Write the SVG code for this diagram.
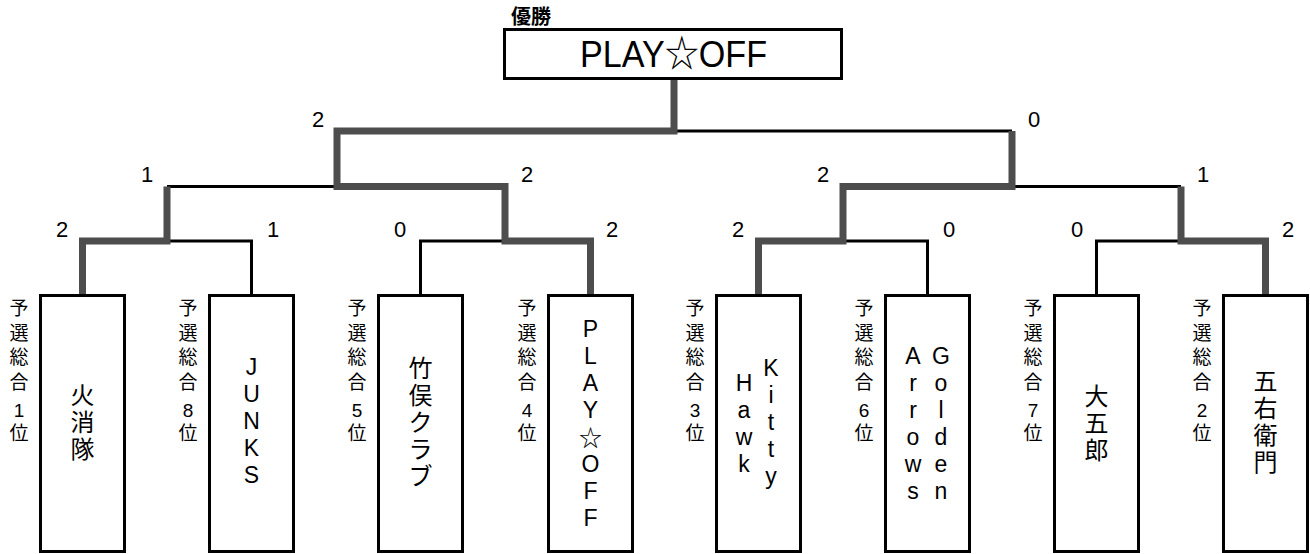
<svg xmlns="http://www.w3.org/2000/svg" width="1310" height="554" viewBox="0 0 1310 554">
<style>
text{font-family:"Liberation Sans","Noto Sans CJK JP",sans-serif;fill:#000}
.box{fill:#fff;stroke:#000;stroke-width:3}
.thin{fill:none;stroke:#000;stroke-width:3;stroke-linejoin:miter}
.thick{fill:none;stroke:#4d4d4d;stroke-width:7;stroke-linejoin:miter}
.score{font-size:22px;text-anchor:middle}
.side{font-size:19px;text-anchor:middle}
.name{font-size:24px;text-anchor:middle}
.lat{font-size:23px;text-anchor:middle}
</style>
<rect width="1310" height="554" fill="#fff"/>
<g id="connectors">
<path class="thin" d="M674,131 H1012"/>
<path class="thin" d="M167,186.5 H337"/>
<path class="thin" d="M1012,186.5 H1181"/>
<path class="thin" d="M251.5,295 V241 H167"/>
<path class="thin" d="M420.5,295 V241 H505"/>
<path class="thin" d="M927.5,295 V241 H843"/>
<path class="thin" d="M1096.5,295 V241 H1181"/>
<path class="thick" d="M674,80 V131 H337 V186.5 H505 V241 H590.5 V295"/>
<path class="thick" d="M82.5,295 V241 H167 V186.5"/>
<path class="thick" d="M1012,131 V186.5 H843 V241 H758.5 V295"/>
<path class="thick" d="M1181,186.5 V241 H1265.5 V295"/>
</g>
<g id="scores">
<text class="score" x="318" y="127">2</text>
<text class="score" x="1034" y="127">0</text>
<text class="score" x="147" y="182">1</text>
<text class="score" x="527" y="182">2</text>
<text class="score" x="823" y="182">2</text>
<text class="score" x="1203" y="182">1</text>
<text class="score" x="62" y="237">2</text>
<text class="score" x="273" y="237">1</text>
<text class="score" x="400" y="237">0</text>
<text class="score" x="612" y="237">2</text>
<text class="score" x="738" y="237">2</text>
<text class="score" x="949" y="237">0</text>
<text class="score" x="1077" y="237">0</text>
<text class="score" x="1288" y="237">2</text>
</g>
<g id="node-champion">
<text x="511" y="24" font-size="20" font-weight="bold">優勝</text>
<rect class="box" x="504.5" y="29.5" width="337" height="49"/>
<text x="580" y="67" font-size="37" textLength="187" lengthAdjust="spacingAndGlyphs">PLAY☆OFF</text>
</g>
<g id="node-1">
<rect class="box" x="40.5" y="295.5" width="84" height="256"/>
<text class="side"><tspan x="19" y="315">予</tspan><tspan x="19" y="340">選</tspan><tspan x="19" y="364">総</tspan><tspan x="19" y="389">合</tspan><tspan x="19" y="417">1</tspan><tspan x="19" y="440">位</tspan></text>
<text class="name"><tspan x="82.5" y="404">火</tspan><tspan x="82.5" y="431">消</tspan><tspan x="82.5" y="458">隊</tspan></text>
</g>
<g id="node-2">
<rect class="box" x="209.5" y="295.5" width="84" height="256"/>
<text class="side"><tspan x="188" y="315">予</tspan><tspan x="188" y="340">選</tspan><tspan x="188" y="364">総</tspan><tspan x="188" y="389">合</tspan><tspan x="188" y="417">8</tspan><tspan x="188" y="440">位</tspan></text>
<text class="lat"><tspan x="251.5" y="375">J</tspan><tspan x="251.5" y="402">U</tspan><tspan x="251.5" y="429">N</tspan><tspan x="251.5" y="456">K</tspan><tspan x="251.5" y="483">S</tspan></text>
</g>
<g id="node-3">
<rect class="box" x="378.5" y="295.5" width="84" height="256"/>
<text class="side"><tspan x="357" y="315">予</tspan><tspan x="357" y="340">選</tspan><tspan x="357" y="364">総</tspan><tspan x="357" y="389">合</tspan><tspan x="357" y="417">5</tspan><tspan x="357" y="440">位</tspan></text>
<text class="name"><tspan x="420.5" y="377">竹</tspan><tspan x="420.5" y="404">俣</tspan><tspan x="420.5" y="431">ク</tspan><tspan x="420.5" y="458">ラ</tspan><tspan x="420.5" y="485">ブ</tspan></text>
</g>
<g id="node-4">
<rect class="box" x="548.5" y="295.5" width="84" height="256"/>
<text class="side"><tspan x="527" y="315">予</tspan><tspan x="527" y="340">選</tspan><tspan x="527" y="364">総</tspan><tspan x="527" y="389">合</tspan><tspan x="527" y="417">4</tspan><tspan x="527" y="440">位</tspan></text>
<text class="lat"><tspan x="590.5" y="337">P</tspan><tspan x="590.5" y="364">L</tspan><tspan x="590.5" y="391">A</tspan><tspan x="590.5" y="418">Y</tspan><tspan x="590.5" y="446">☆</tspan><tspan x="590.5" y="472">O</tspan><tspan x="590.5" y="499">F</tspan><tspan x="590.5" y="526">F</tspan></text>
</g>
<g id="node-5">
<rect class="box" x="716.5" y="295.5" width="84" height="256"/>
<text class="side"><tspan x="695" y="315">予</tspan><tspan x="695" y="340">選</tspan><tspan x="695" y="364">総</tspan><tspan x="695" y="389">合</tspan><tspan x="695" y="417">3</tspan><tspan x="695" y="440">位</tspan></text>
<text class="lat"><tspan x="771" y="376">K</tspan><tspan x="771" y="403">i</tspan><tspan x="771" y="430">t</tspan><tspan x="771" y="457">t</tspan><tspan x="771" y="484">y</tspan></text>
<text class="lat"><tspan x="744" y="391">H</tspan><tspan x="744" y="418">a</tspan><tspan x="744" y="445">w</tspan><tspan x="744" y="472">k</tspan></text>
</g>
<g id="node-6">
<rect class="box" x="885.5" y="295.5" width="84" height="256"/>
<text class="side"><tspan x="864" y="315">予</tspan><tspan x="864" y="340">選</tspan><tspan x="864" y="364">総</tspan><tspan x="864" y="389">合</tspan><tspan x="864" y="417">6</tspan><tspan x="864" y="440">位</tspan></text>
<text class="lat"><tspan x="941" y="364">G</tspan><tspan x="941" y="391">o</tspan><tspan x="941" y="418">l</tspan><tspan x="941" y="445">d</tspan><tspan x="941" y="472">e</tspan><tspan x="941" y="499">n</tspan></text>
<text class="lat"><tspan x="913" y="364">A</tspan><tspan x="913" y="391">r</tspan><tspan x="913" y="418">r</tspan><tspan x="913" y="445">o</tspan><tspan x="913" y="472">w</tspan><tspan x="913" y="499">s</tspan></text>
</g>
<g id="node-7">
<rect class="box" x="1054.5" y="295.5" width="84" height="256"/>
<text class="side"><tspan x="1033" y="315">予</tspan><tspan x="1033" y="340">選</tspan><tspan x="1033" y="364">総</tspan><tspan x="1033" y="389">合</tspan><tspan x="1033" y="417">7</tspan><tspan x="1033" y="440">位</tspan></text>
<text class="name"><tspan x="1096.5" y="405">大</tspan><tspan x="1096.5" y="432">五</tspan><tspan x="1096.5" y="459">郎</tspan></text>
</g>
<g id="node-8">
<rect class="box" x="1223.5" y="295.5" width="84" height="256"/>
<text class="side"><tspan x="1202" y="315">予</tspan><tspan x="1202" y="340">選</tspan><tspan x="1202" y="364">総</tspan><tspan x="1202" y="389">合</tspan><tspan x="1202" y="417">2</tspan><tspan x="1202" y="440">位</tspan></text>
<text class="name"><tspan x="1265.5" y="390">五</tspan><tspan x="1265.5" y="417">右</tspan><tspan x="1265.5" y="444">衛</tspan><tspan x="1265.5" y="471">門</tspan></text>
</g>
</svg>
